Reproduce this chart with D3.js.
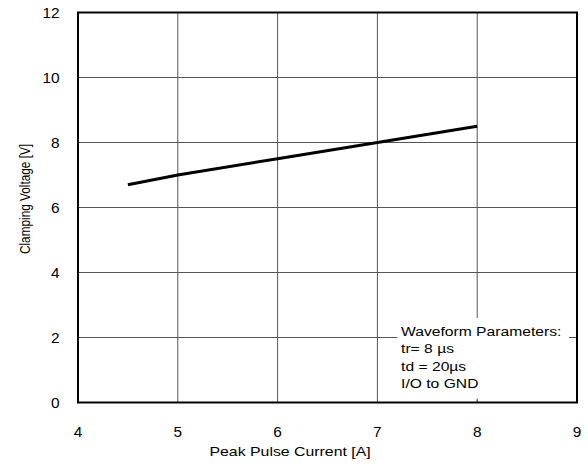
<!DOCTYPE html>
<html>
<head>
<meta charset="utf-8">
<script src="https://d3js.org/d3.v7.min.js"></script>
<style>
  body { margin: 0; background: #fff; }
  text { font-family: Arial, "Liberation Sans", sans-serif; fill: #000; }
</style>
</head>
<body>
<div id="chart"></div>
<script>
// curve data
var current = [4.5, 5, 6, 7, 8];
var voltage = [6.7, 7.0, 7.5, 8.0, 8.5];

var xTicks = [4, 5, 6, 7, 8, 9];
var yTicks = [0, 2, 4, 6, 8, 10, 12];
var legendLines = ["Waveform Parameters:", "tr= 8 \u00b5s", "td = 20\u00b5s", "I/O to GND"];

var width = 588, height = 470;
var margin = { left: 78, right: 11, top: 12.5, bottom: 67.5 };

// the source picture is stretched sideways, so text is widened a bit
var stretch = 1.1;

var svg = d3.select("#chart").append("svg")
    .attr("width", width)
    .attr("height", height)
    .style("background-color", "white");

var x = d3.scaleLinear().domain([4, 9]).range([margin.left, width - margin.right]);
var y = d3.scaleLinear().domain([0, 12]).range([height - margin.bottom, margin.top]);

// grid
var grid = svg.append("g").attr("class", "grid");
grid.selectAll("line.v")
    .data(xTicks.slice(1, -1))
    .enter().append("line")
    .attr("class", "v")
    .attr("x1", function(d) { return x(d); })
    .attr("x2", function(d) { return x(d); })
    .attr("y1", y(0))
    .attr("y2", y(12))
    .style("stroke", "#555")
    .style("stroke-width", 1);
grid.selectAll("line.h")
    .data(yTicks.slice(1, -1))
    .enter().append("line")
    .attr("class", "h")
    .attr("x1", x(4))
    .attr("x2", x(9))
    .attr("y1", function(d) { return y(d); })
    .attr("y2", function(d) { return y(d); })
    .style("stroke", "#555")
    .style("stroke-width", 1);

// legend box masks the grid
var lg = svg.append("g").attr("class", "legend");
lg.append("rect")
    .attr("x", x(7.2))
    .attr("y", y(2.6))
    .attr("width", x(8.92) - x(7.2))
    .attr("height", y(0.08) - y(2.6))
    .style("fill", "white");
lg.append("line")
    .attr("x1", x(8)).attr("x2", x(8))
    .attr("y1", y(0)).attr("y2", y(0) - 4)
    .style("stroke", "#555");

lg.selectAll("text")
    .data(legendLines)
    .enter().append("text")
    .attr("transform", function(d, i) {
        return "translate(" + x(7.237) + "," + (y(2.06) + i * 17.6) + ") scale(1.16,1)";
    })
    .style("font-size", "13.5px")
    .text(function(d) { return d; });

// curve
var line = d3.line()
    .x(function(d, i) { return x(current[i]); })
    .y(function(d) { return y(d); });
svg.append("path")
    .datum(voltage)
    .attr("d", line)
    .style("fill", "none")
    .style("stroke", "#000")
    .style("stroke-width", 3);

// frame
svg.append("rect")
    .attr("x", x(4))
    .attr("y", y(12))
    .attr("width", x(9) - x(4))
    .attr("height", y(0) - y(12))
    .style("fill", "none")
    .style("stroke", "#000")
    .style("stroke-width", 2);

// tick labels
svg.append("g").selectAll("text")
    .data(xTicks)
    .enter().append("text")
    .attr("transform", function(d) { return "translate(" + x(d) + ",437) scale(" + stretch + ",1)"; })
    .attr("text-anchor", "middle")
    .style("font-size", "14px")
    .text(function(d) { return d; });

svg.append("g").selectAll("text")
    .data(yTicks)
    .enter().append("text")
    .attr("transform", function(d) { return "translate(59.5," + (y(d) + 5) + ") scale(" + stretch + ",1)"; })
    .attr("text-anchor", "end")
    .style("font-size", "14px")
    .text(function(d) { return d; });

// axis titles
svg.append("text")
    .attr("transform", "translate(" + x(6.125) + ",455.5) scale(1.27,1)")
    .attr("text-anchor", "middle")
    .style("font-size", "12.5px")
    .text("Peak Pulse Current [A]");

svg.append("text")
    .attr("transform", "translate(29.5,199) scale(1.3,1) rotate(-90)")
    .attr("text-anchor", "middle")
    .style("font-size", "11.8px")
    .text("Clamping Voltage [V]");
</script>
</body>
</html>
